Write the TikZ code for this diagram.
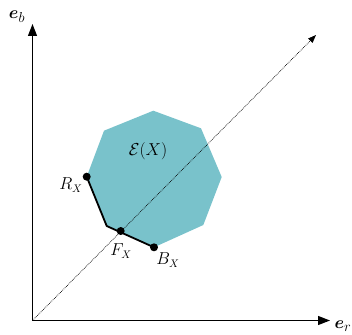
\documentclass[tikz,border=0pt]{standalone}
\usepackage{amsmath,bm}
\usetikzlibrary{arrows.meta}
\definecolor{tealfill}{HTML}{79C2CB}
\begin{document}
\begin{tikzpicture}[x=1pt,y=-1pt,
  axis/.style={line width=1.2pt,-{Triangle[length=12pt,width=9pt]}},
  diag/.style={densely dotted,line width=0.7pt,-{Triangle[length=8pt,width=6pt]}},
  dot/.style={circle,fill=black,inner sep=0pt,minimum size=8pt},
  lbl/.style={font=\fontsize{16}{18}\selectfont,inner sep=0pt},
  axl/.style={font=\fontsize{19}{21}\selectfont,inner sep=0pt}]
\useasboundingbox (0,0) rectangle (352,334);
\coordinate (O) at (32.5,320.5);
\coordinate (Ytip) at (32.5,24);
\coordinate (Xtip) at (330,320.5);
\coordinate (Dtip) at (316,35);
% polygon
\coordinate (P1) at (153.3,110.7);
\coordinate (P2) at (201,128.3);
\coordinate (P3) at (221.7,177);
\coordinate (P4) at (203.3,225);
\coordinate (B) at (154,247.3);
\coordinate (K) at (106.7,226);
\coordinate (R) at (86.7,176.7);
\coordinate (P9) at (104,130.7);
\fill[tealfill] (P1) -- (P2) -- (P3) -- (P4) -- (B) -- (K) -- (R) -- (P9) -- cycle;
\draw[diag] (O) -- (Dtip);
\draw[axis] (O) -- (Ytip);
\draw[axis] (O) -- (Xtip);
\draw[line width=1.8pt,line join=round] (R) -- (K) -- (B);
\node[dot] (Rd) at (R) {};
\node[dot] (Fd) at (120.7,231) {};
\node[dot] (Bd) at (B) {};
\node[lbl] (Rl) at (71,185) {$R_X$};
\node[lbl] (Fl) at (121,251) {$F_X$};
\node[lbl] (Bl) at (168,260) {$B_X$};
\node[lbl] (El) at (148,151) {$\mathcal{E}(X)$};
\node[axl] (eb) at (17,17) {$\bm{e}_b$};
\node[axl] (er) at (343,326) {$\bm{e}_r$};
\end{tikzpicture}
\end{document}
